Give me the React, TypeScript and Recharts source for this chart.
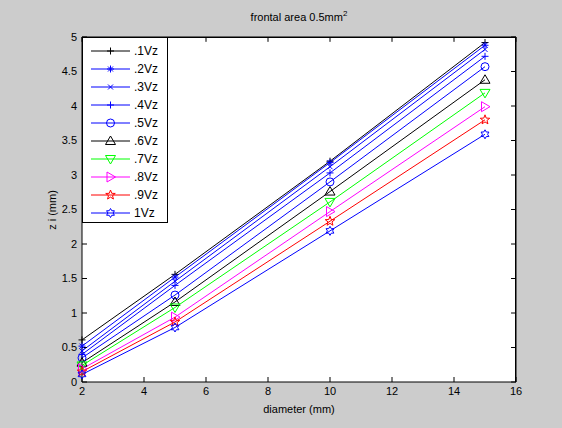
import React from "react";
import { LineChart, Line, XAxis, YAxis, CartesianGrid, ReferenceLine } from "recharts";

// diameter (mm)
const diameters = [2, 5, 10, 15];

// zi (mm) per velocity fraction
const vz01 = [0.61, 1.56, 3.2, 4.92];
const vz02 = [0.52, 1.52, 3.18, 4.88];
const vz03 = [0.45, 1.46, 3.12, 4.82];
const vz04 = [0.4, 1.4, 3.03, 4.72];
const vz05 = [0.35, 1.26, 2.9, 4.57];
const vz06 = [0.28, 1.16, 2.76, 4.38];
const vz07 = [0.24, 1.08, 2.61, 4.19];
const vz08 = [0.19, 0.94, 2.47, 3.99];
const vz09 = [0.15, 0.87, 2.33, 3.8];
const vz10 = [0.11, 0.79, 2.19, 3.59];

const seriesNames = [".1Vz", ".2Vz", ".3Vz", ".4Vz", ".5Vz", ".6Vz", ".7Vz", ".8Vz", ".9Vz", "1Vz"];
const seriesValues = [vz01, vz02, vz03, vz04, vz05, vz06, vz07, vz08, vz09, vz10];

const xTicks = [2, 4, 6, 8, 10, 12, 14, 16];
const yTicks = [0, 0.5, 1, 1.5, 2, 2.5, 3, 3.5, 4, 4.5, 5];

const colors = ["#000000", "#0000ff", "#0000ff", "#0000ff", "#0000ff", "#000000", "#00ff00", "#ff00ff", "#ff0000", "#0000ff"];
const shapes = ["plus", "star", "cross", "plus", "circle", "up", "down", "right", "pent", "hex"];

const data = diameters.map((d, i) => {
  const row: any = { d };
  seriesNames.forEach((n, k) => (row[n] = seriesValues[k][i]));
  return row;
});

const FONT = "'Liberation Sans', Arial, Helvetica, sans-serif";

function starPoints(cx: number, cy: number, n: number, ro: number, ri: number, rot: number) {
  const pts: string[] = [];
  for (let i = 0; i < n * 2; i++) {
    const r = i % 2 === 0 ? ro : ri;
    const a = rot + (Math.PI * i) / n;
    pts.push(`${cx + r * Math.cos(a)},${cy + r * Math.sin(a)}`);
  }
  return pts.join(" ");
}

function Marker({ shape, cx, cy, color }: { shape: string; cx: number; cy: number; color: string }) {
  const s = 3.5;
  const p = { stroke: color, strokeWidth: 1, fill: "none" };
  switch (shape) {
    case "plus":
      return (
        <g {...p}>
          <line x1={cx - s} y1={cy} x2={cx + s} y2={cy} />
          <line x1={cx} y1={cy - s} x2={cx} y2={cy + s} />
        </g>
      );
    case "cross":
      return (
        <g {...p}>
          <line x1={cx - 2.5} y1={cy - 2.5} x2={cx + 2.5} y2={cy + 2.5} />
          <line x1={cx - 2.5} y1={cy + 2.5} x2={cx + 2.5} y2={cy - 2.5} />
        </g>
      );
    case "star":
      return (
        <g {...p}>
          <line x1={cx - s} y1={cy} x2={cx + s} y2={cy} />
          <line x1={cx} y1={cy - s} x2={cx} y2={cy + s} />
          <line x1={cx - 2.5} y1={cy - 2.5} x2={cx + 2.5} y2={cy + 2.5} />
          <line x1={cx - 2.5} y1={cy + 2.5} x2={cx + 2.5} y2={cy - 2.5} />
        </g>
      );
    case "circle":
      return <circle cx={cx} cy={cy} r={4} {...p} />;
    case "up":
      return <polygon points={`${cx},${cy - 5} ${cx + 5},${cy + 3.5} ${cx - 5},${cy + 3.5}`} {...p} />;
    case "down":
      return <polygon points={`${cx},${cy + 5} ${cx + 5},${cy - 3.5} ${cx - 5},${cy - 3.5}`} {...p} />;
    case "right":
      return <polygon points={`${cx + 5},${cy} ${cx - 3.5},${cy + 5} ${cx - 3.5},${cy - 5}`} {...p} />;
    case "pent":
      return <polygon points={starPoints(cx, cy, 5, 5, 2.1, -Math.PI / 2)} {...p} />;
    case "hex":
      return <polygon points={starPoints(cx, cy, 6, 4.5, 2.6, -Math.PI / 2)} {...p} />;
    default:
      return null;
  }
}

const tickStyle = { fontSize: 11, fill: "#000", fontFamily: FONT };

export default function App() {
  return (
    <div style={{ position: "fixed", left: 0, top: 0, width: 562, height: 428, background: "#cccccc", fontFamily: FONT }}>
      <LineChart width={562} height={428} data={data} margin={{ top: 37, right: 46, bottom: 16, left: 42 }}>
        <CartesianGrid fill="#ffffff" horizontal={false} vertical={false} />
        <XAxis
          dataKey="d"
          type="number"
          domain={[2, 16]}
          ticks={xTicks}
          height={30}
          stroke="#000"
          tickSize={-5}
          tickMargin={10}
          tick={tickStyle}
          interval={0}
        />
        <YAxis
          type="number"
          domain={[0, 5]}
          ticks={yTicks}
          width={40}
          stroke="#000"
          tickSize={-5}
          tickMargin={10}
          tick={tickStyle}
          interval={0}
        />
        {/* box: top and right edges with inward ticks */}
        <ReferenceLine y={5} stroke="#000" strokeWidth={1} ifOverflow="visible" />
        <ReferenceLine x={16} stroke="#000" strokeWidth={1} ifOverflow="visible" />
        {xTicks.map((t) => (
          <ReferenceLine key={`tx${t}`} segment={[{ x: t, y: 5 }, { x: t, y: 4.93 }]} stroke="#000" ifOverflow="visible" />
        ))}
        {yTicks.map((t) => (
          <ReferenceLine key={`ty${t}`} segment={[{ x: 16, y: t }, { x: 15.84, y: t }]} stroke="#000" ifOverflow="visible" />
        ))}
        {seriesNames.map((n, k) => (
          <Line
            key={n}
            dataKey={n}
            stroke={colors[k]}
            strokeWidth={1}
            type="linear"
            isAnimationActive={false}
            dot={(props: any) => <Marker key={`${n}-${props.index}`} shape={shapes[k]} cx={props.cx} cy={props.cy} color={colors[k]} />}
          />
        ))}
      </LineChart>

      {/* frame fallback for the top and right edges of the axes box */}
      <div
        style={{
          position: "absolute",
          left: 82,
          top: 37,
          width: 434,
          height: 345,
          boxSizing: "border-box",
          borderTop: "1px solid #000",
          borderRight: "1px solid #000",
          pointerEvents: "none",
        }}
      />

      {/* title */}
      <div style={{ position: "absolute", left: 82, width: 434, top: 9, textAlign: "center", fontSize: 11, color: "#000" }}>
        frontal area 0.5mm<sup style={{ fontSize: 8 }}>2</sup>
      </div>
      {/* x label */}
      <div style={{ position: "absolute", left: 82, width: 434, top: 403, textAlign: "center", fontSize: 11, color: "#000" }}>
        diameter (mm)
      </div>
      {/* y label */}
      <div
        style={{
          position: "absolute",
          left: 52,
          top: 210,
          transform: "translate(-50%, -50%) rotate(-90deg)",
          fontSize: 11,
          color: "#000",
          whiteSpace: "nowrap",
        }}
      >
        z i (mm)
      </div>

      {/* legend */}
      <svg style={{ position: "absolute", left: 82, top: 37 }} width={86} height={186}>
        <rect x={0.5} y={0.5} width={85} height={185} fill="#fff" stroke="#000" />
        {seriesNames.map((n, k) => {
          const y = 14 + k * 18;
          return (
            <g key={n}>
              <line x1={9} y1={y} x2={48} y2={y} stroke={colors[k]} strokeWidth={1} />
              <Marker shape={shapes[k]} cx={28.5} cy={y} color={colors[k]} />
              <text x={52} y={y + 4} fontSize={12} fontFamily={FONT} fill="#000">
                {n}
              </text>
            </g>
          );
        })}
      </svg>
    </div>
  );
}
